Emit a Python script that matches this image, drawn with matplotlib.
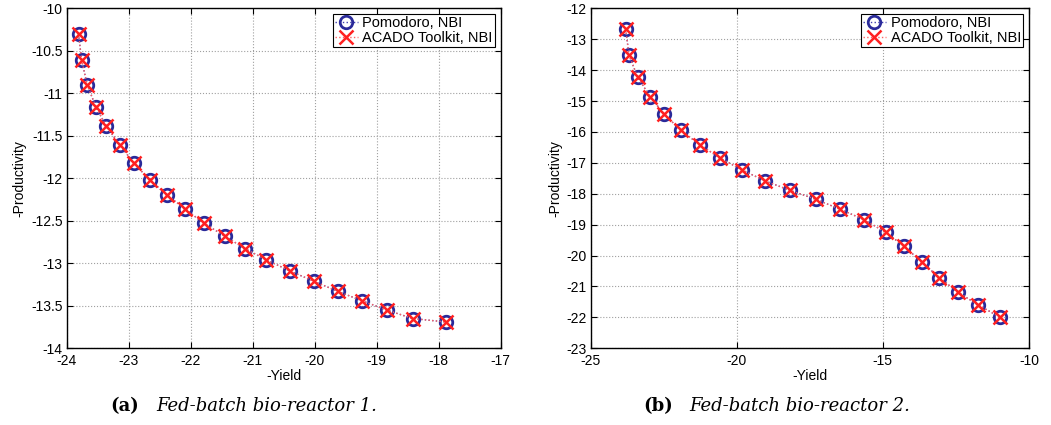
import matplotlib.pyplot as plt

plt.rcParams['font.family'] = ['Liberation Sans', 'DejaVu Sans']

# Pareto fronts, reactor 1
yield1 = [-23.81, -23.76, -23.67, -23.53, -23.36, -23.14, -22.92, -22.66, -22.38, -22.09,
          -21.79, -21.45, -21.12, -20.78, -20.40, -20.02, -19.63, -19.24, -18.84, -18.42, -17.89]
prod1 = [-10.30, -10.61, -10.90, -11.16, -11.39, -11.61, -11.82, -12.02, -12.20, -12.36,
         -12.53, -12.68, -12.83, -12.96, -13.09, -13.21, -13.33, -13.44, -13.55, -13.65, -13.69]

# Pareto fronts, reactor 2
yield2 = [-23.80, -23.69, -23.39, -22.96, -22.48, -21.91, -21.27, -20.58, -19.82, -19.04,
          -18.18, -17.29, -16.47, -15.64, -14.90, -14.27, -13.66, -13.07, -12.44, -11.73, -11.00]
prod2 = [-12.67, -13.51, -14.23, -14.87, -15.43, -15.95, -16.41, -16.84, -17.23, -17.58,
         -17.89, -18.18, -18.50, -18.84, -19.25, -19.70, -20.22, -20.71, -21.18, -21.60, -21.99]

fig = plt.figure(figsize=(10.51, 4.25), dpi=100)
ax1 = fig.add_axes([0.0635, 0.1805, 0.413, 0.80])
ax2 = fig.add_axes([0.562, 0.1805, 0.417, 0.80])


def draw(ax, x, y, xlim, ylim, xticks, yticks):
    ax.plot(x, y, linestyle=':', color='#4040b0', marker='o', markersize=9,
            markerfacecolor='none', markeredgecolor='#2a2a9a', markeredgewidth=2,
            linewidth=1, label='Pomodoro, NBI')
    ax.plot(x, y, linestyle=':', color='#ff6060', marker='x', markersize=10,
            markeredgecolor='#ff2020', markeredgewidth=1.8, linewidth=1,
            label='ACADO Toolkit, NBI')
    ax.set_xlim(xlim)
    ax.set_ylim(ylim)
    ax.set_xticks(xticks)
    ax.set_yticks(yticks)
    ax.set_xticklabels([f'{t:g}' for t in xticks])
    ax.set_yticklabels([f'{t:g}' for t in yticks])
    ax.grid(True, linestyle=':', color='#a0a0a0', linewidth=0.8)
    ax.tick_params(direction='in', top=True, right=True, labelsize=10,
                   length=4, width=0.8)
    ax.tick_params(axis='x', pad=4)
    ax.tick_params(axis='y', pad=3)
    for s in ax.spines.values():
        s.set_linewidth(1.0)
    ax.set_xlabel('-Yield', fontsize=10, labelpad=1)
    ax.set_ylabel('-Productivity', fontsize=10, labelpad=3)
    leg = ax.legend(loc='upper right', fontsize=10.5, fancybox=False, framealpha=1,
                    edgecolor='black', borderaxespad=0.4, handlelength=1.6,
                    borderpad=0.15, labelspacing=0.05, handletextpad=0.3)
    leg.get_frame().set_linewidth(0.8)


draw(ax1, yield1, prod1, (-24, -17), (-14, -10),
     [-24, -23, -22, -21, -20, -19, -18, -17],
     [-14, -13.5, -13, -12.5, -12, -11.5, -11, -10.5, -10])
draw(ax2, yield2, prod2, (-25, -10), (-23, -12),
     [-25, -20, -15, -10],
     list(range(-23, -11)))

# subfigure captions
fig.text(0.105, 0.032, '(a)', fontsize=13, fontweight='bold', family='DejaVu Serif')
fig.text(0.149, 0.032, 'Fed-batch bio-reactor 1.', fontsize=13, style='italic',
         family='DejaVu Serif')
fig.text(0.612, 0.032, '(b)', fontsize=13, fontweight='bold', family='DejaVu Serif')
fig.text(0.656, 0.032, 'Fed-batch bio-reactor 2.', fontsize=13, style='italic',
         family='DejaVu Serif')

plt.savefig('out.png', dpi=100)
